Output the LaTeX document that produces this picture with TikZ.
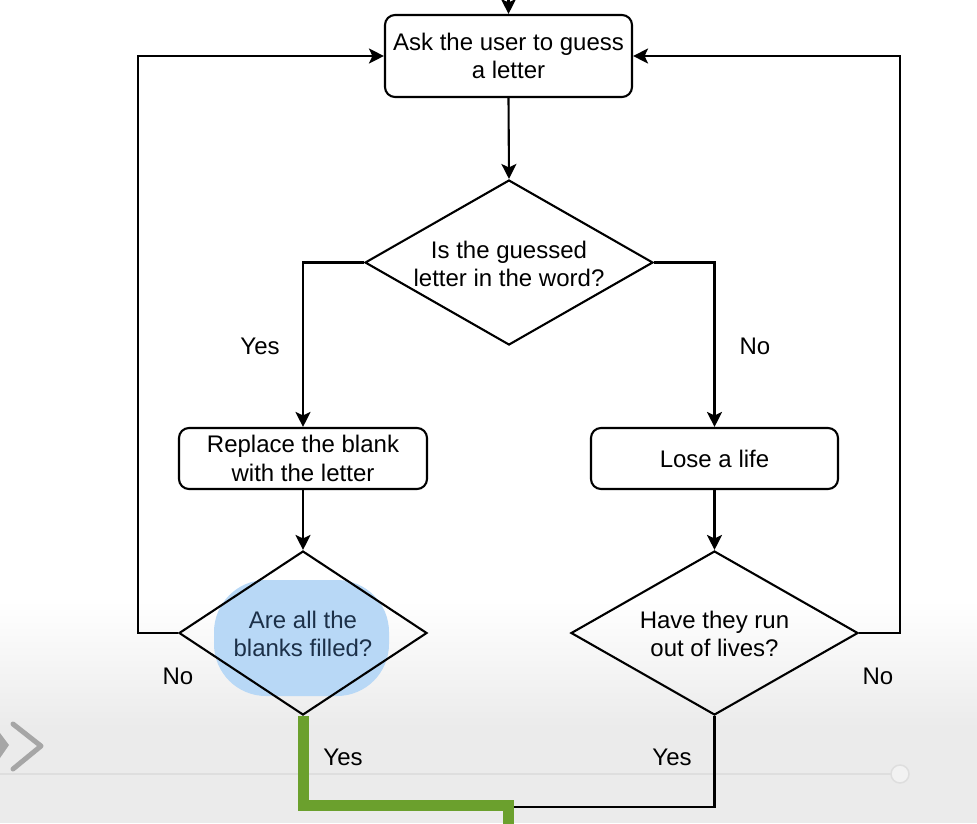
\documentclass[tikz,border=0pt]{standalone}
\usepackage{fontspec}
\setmainfont{Liberation Sans}
\usetikzlibrary{shapes.geometric,arrows.meta}
\definecolor{hlgreen}{RGB}{107,160,45}
\definecolor{hlblue}{RGB}{184,216,246}
\definecolor{hltext}{RGB}{28,48,72}
\begin{document}
\begin{tikzpicture}[x=1pt,y=-1pt,
  txt/.style={align=center,font=\fontsize{24}{28.5}\selectfont,inner sep=0pt},
  procbox/.style={draw,rounded corners=10pt,line width=2.1pt,inner sep=0pt,align=center,
    font=\fontsize{24}{28.5}\selectfont},
  decision/.style={draw,diamond,inner sep=0pt,line width=2.1pt},
  conn/.style={line width=2.1pt,-{Stealth[length=15pt,width=15pt,inset=3.5pt]}},
  plain/.style={line width=2.1pt},
  hlpath/.style={line width=11pt,draw=hlgreen},
  lbl/.style={font=\fontsize{24}{28.5}\selectfont,inner sep=0pt}]
\useasboundingbox (0,0) rectangle (977,823);
% video overlay background
\shade[top color=white,bottom color=black!8] (0,600) rectangle (977,730);
\fill[black!8] (0,730) rectangle (977,823);
\draw[black!13,line width=1.5pt] (0,774) -- (891,774);
\draw[black!13,line width=1.5pt,fill=black!5] (900,774) circle (9);
\draw[black!35,line width=5pt,line cap=round,line join=round] (13,724) -- (41,746) -- (13,769);
\fill[black!35] (0,733) -- (9,745) -- (0,758) -- cycle;

% highlight (under the unfilled shapes)
\fill[hlblue,rounded corners=52pt] (214,580) rectangle (389,696);

% nodes
\coordinate (topin) at (508.5,-6);
\node[procbox,minimum width=247,minimum height=82] (b1) at (508.5,56) {Ask the user to guess\\a letter};
\node[decision,minimum width=288,minimum height=165] (d1) at (509,262.5) {};
\node[txt] (t1) at (509,264) {Is the guessed\\letter in the word?};
\node[procbox,minimum width=248,minimum height=61] (b2) at (303,458.5) {Replace the blank\\with the letter};
\node[procbox,minimum width=247,minimum height=61] (b3) at (714.5,458.5) {Lose a life};
\node[decision,minimum width=248,minimum height=164] (d2) at (303,633) {};
\node[txt,text=hltext] (t2) at (303,634) {Are all the\\blanks filled?};
\node[decision,minimum width=287,minimum height=164] (d3) at (714.5,633) {};
\node[txt] (t3) at (714.5,634) {Have they run\\out of lives?};

\coordinate (lx) at (138,0);
\coordinate (rx) at (900,0);
\coordinate (bj) at (508,807);
\coordinate (gj) at (508,805);
\coordinate (gend) at (508,840);

% connectors
\draw[conn] (topin) -- (b1.north);
\draw[conn] (b1.south) -- (d1.north);
\draw[conn] (d1.west) -| (b2.north);
\draw[conn] (d1.east) -| (b3.north);
\draw[conn] (b2.south) -- (d2.north);
\draw[conn] (b3.south) -- (d3.north);
\draw[conn] (d2.west) -- (d2.west -| lx) |- (b1.west);
\draw[conn] (d3.east) -- (d3.east -| rx) |- (b1.east);
\draw[plain] (d3.south) |- (bj);
\draw[hlpath] (d2.south) |- (gj) -- (gend);

% labels
\node[lbl] (yes1) at (260,346) {Yes};
\node[lbl] (no1) at (755,346) {No};
\node[lbl] (no2) at (178,676) {No};
\node[lbl] (no3) at (878,676) {No};
\node[lbl] (yes2) at (343,757) {Yes};
\node[lbl] (yes3) at (672,757) {Yes};
\end{tikzpicture}
\end{document}
